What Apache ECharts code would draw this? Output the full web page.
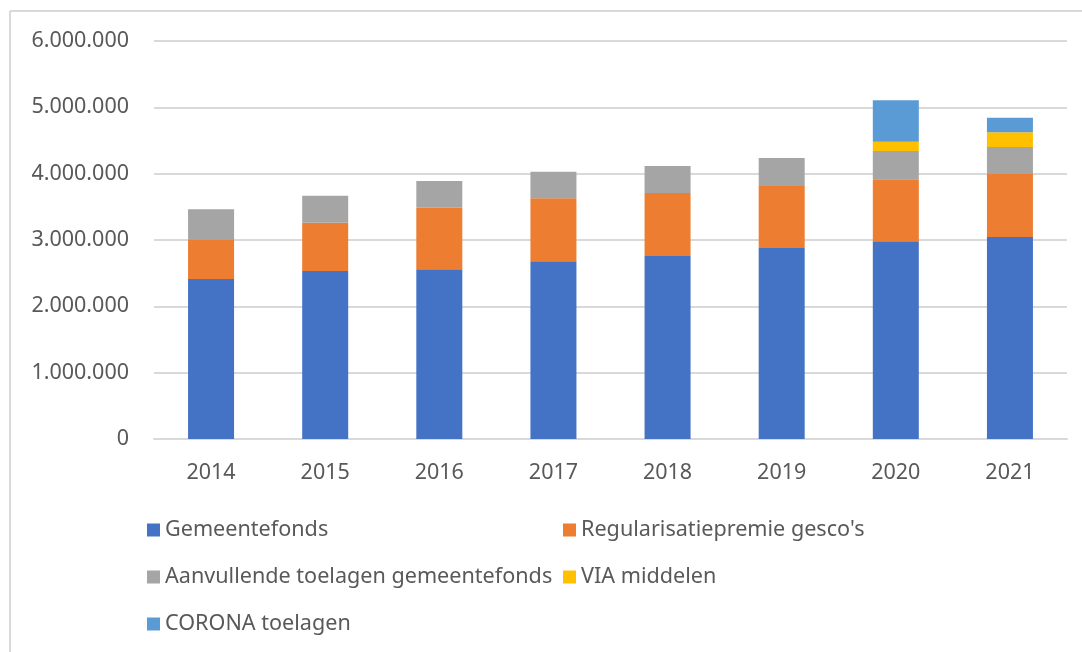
<!DOCTYPE html>
<html>
<head>
<meta charset="utf-8">
<script src="https://cdn.jsdelivr.net/npm/echarts@6/dist/echarts.min.js"></script>
<style>
  html, body { margin: 0; padding: 0; background: #ffffff; }
  #chart { width: 1082px; height: 652px; }
</style>
</head>
<body>
<div id="chart"></div>
<script>
const years = ['2014', '2015', '2016', '2017', '2018', '2019', '2020', '2021'];
const gemeentefonds = [2412000, 2533000, 2558000, 2679000, 2759000, 2880000, 2980000, 3045000];
const regularisatie = [588000, 728000, 929000, 950000, 950000, 934000, 935000, 950000];
const aanvullende = [463000, 407000, 403000, 401000, 407000, 422000, 427000, 407000];
const viaMiddelen = [null, null, null, null, null, null, 140000, 222000];
const corona = [null, null, null, null, null, null, 624000, 220000];

const seriesNames = ['Gemeentefonds', "Regularisatiepremie gesco's", 'Aanvullende toelagen gemeentefonds', 'VIA middelen', 'CORONA toelagen'];
const seriesData = [gemeentefonds, regularisatie, aanvullende, viaMiddelen, corona];
const colors = ['#4472C4', '#ED7D31', '#A5A5A5', '#FFC000', '#5B9BD5'];

const FONT = 'Noto Sans';
const TXT = '#595959';

function fmt(v) {
  return String(v).replace(/\B(?=(\d{3})+(?!\d))/g, '.');
}

const legendPos = [
  { left: 147, top: 519 },
  { left: 563, top: 519 },
  { left: 147, top: 566 },
  { left: 563, top: 566 },
  { left: 147, top: 613 }
];

const chart = echarts.init(document.getElementById('chart'), null, { renderer: 'canvas' });
chart.setOption({
  animation: false,
  backgroundColor: '#ffffff',
  color: colors,
  grid: { left: 154, right: 15, top: 41, bottom: 213, containLabel: false },
  xAxis: {
    type: 'category',
    data: years,
    axisLine: { show: true, lineStyle: { color: '#d9d9d9', width: 2 } },
    axisTick: { show: false },
    axisLabel: { color: TXT, fontFamily: FONT, fontSize: 21.5, margin: 23 }
  },
  yAxis: {
    type: 'value',
    min: 0,
    max: 6000000,
    interval: 1000000,
    axisLine: { show: false },
    axisTick: { show: false },
    splitLine: { lineStyle: { color: '#d9d9d9', width: 2 } },
    axisLabel: { color: TXT, fontFamily: FONT, fontSize: 21.5, margin: 25, formatter: fmt }
  },
  legend: seriesNames.map((n, i) => ({
    data: [n],
    left: legendPos[i].left,
    top: legendPos[i].top,
    padding: 0,
    icon: 'rect',
    itemWidth: 13,
    itemHeight: 13,
    selectedMode: false,
    textStyle: { color: TXT, fontFamily: FONT, fontSize: 21.6, padding: [0, 0, 0, 0] }
  })),
  series: seriesNames.map((n, i) => ({
    name: n,
    type: 'bar',
    stack: 'total',
    barWidth: 46,
    data: seriesData[i],
    itemStyle: { color: colors[i] }
  })),
  graphic: [
    { type: 'line', shape: { x1: 10, y1: 11, x2: 1082, y2: 11 }, style: { stroke: '#d9d9d9', lineWidth: 2 } },
    { type: 'line', shape: { x1: 10, y1: 11, x2: 10, y2: 652 }, style: { stroke: '#d9d9d9', lineWidth: 2 } }
  ]
});
</script>
</body>
</html>
